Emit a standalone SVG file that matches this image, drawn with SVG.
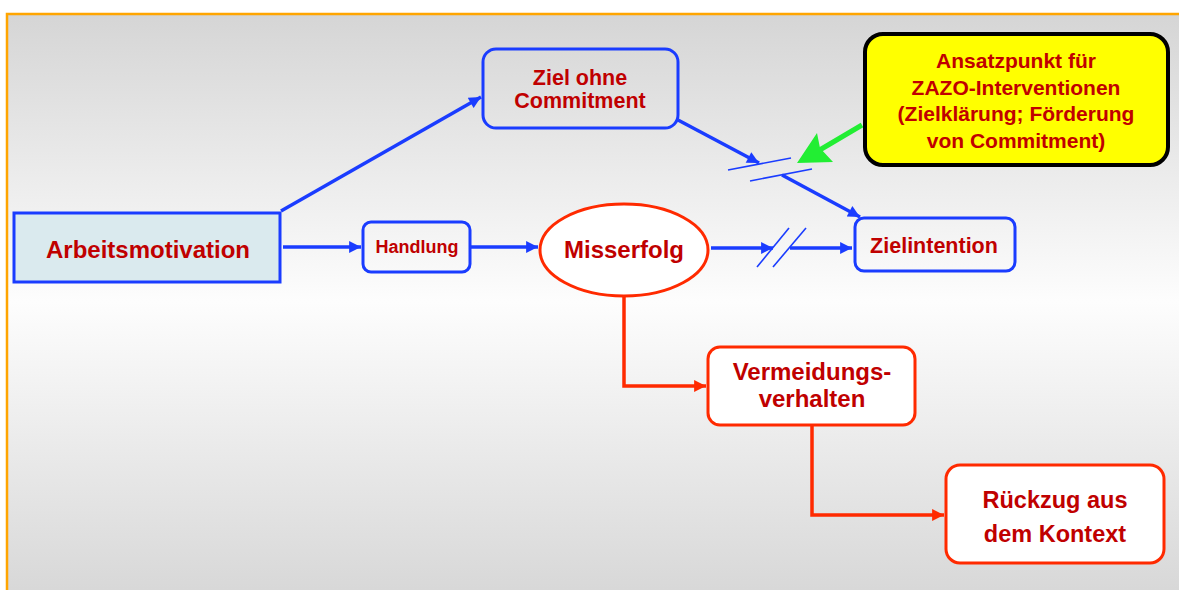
<svg xmlns="http://www.w3.org/2000/svg" width="1179" height="590" viewBox="0 0 1179 590">
<defs>
  <linearGradient id="bg" x1="0" y1="13" x2="0" y2="590" gradientUnits="userSpaceOnUse">
    <stop offset="0" stop-color="#d5d5d5"/>
    <stop offset="0.5" stop-color="#fdfdfd"/>
    <stop offset="1" stop-color="#d8d8d8"/>
  </linearGradient>
  <marker id="ab" viewBox="0 0 10 10" refX="10" refY="5" markerWidth="4" markerHeight="3.4" orient="auto" markerUnits="strokeWidth">
    <path d="M0,0 L10,5 L0,10 z" fill="#1a3cff"/>
  </marker>
  <marker id="ar" viewBox="0 0 10 10" refX="10" refY="5" markerWidth="4" markerHeight="3.4" orient="auto" markerUnits="strokeWidth">
    <path d="M0,0 L10,5 L0,10 z" fill="#ff2a00"/>
  </marker>
</defs>
<style>
  text { font-family: "Liberation Sans", Arial, sans-serif; font-weight: bold; fill: #c00000; text-anchor: middle; }
  .b { fill: none; stroke: #1a3cff; stroke-width: 3; }
  .r { fill: #ffffff; stroke: #ff2a00; stroke-width: 3; }
  .cb { fill: none; stroke: #1a3cff; stroke-width: 3.5; }
  .cr { fill: none; stroke: #ff2a00; stroke-width: 3.5; }
  .sl { fill: none; stroke: #1a3cff; stroke-width: 1.6; }
</style>
<rect x="0" y="0" width="1179" height="590" fill="#ffffff"/>
<rect x="7" y="14" width="1180" height="590" fill="url(#bg)" stroke="#ffa500" stroke-width="2.5"/>

<g id="connectors">
  <line class="cb" x1="281" y1="211" x2="481" y2="97" marker-end="url(#ab)"/>
  <line class="cb" x1="283" y1="247" x2="361" y2="247" marker-end="url(#ab)"/>
  <line class="cb" x1="471" y1="247" x2="538" y2="247" marker-end="url(#ab)"/>
  <line class="cb" x1="711" y1="248" x2="773" y2="248" marker-end="url(#ab)"/>
  <line class="cb" x1="790" y1="248" x2="852" y2="248" marker-end="url(#ab)"/>
  <line class="sl" x1="757" y1="267" x2="789" y2="228"/>
  <line class="sl" x1="773" y1="267" x2="806" y2="228"/>
  <line class="cb" x1="678" y1="120" x2="759" y2="163" marker-end="url(#ab)"/>
  <line class="sl" x1="728" y1="170" x2="791" y2="158"/>
  <line class="sl" x1="750" y1="181" x2="812" y2="169"/>
  <line class="cb" x1="782" y1="175" x2="860" y2="217" marker-end="url(#ab)"/>
  <g id="green-arrow">
    <line x1="862" y1="125" x2="818" y2="151" stroke="#22ee33" stroke-width="5"/>
    <path d="M797,163 L817,133 L820,148 L833,162 z" fill="#22ee33"/>
  </g>
  <polyline class="cr" points="624,297 624,386 706,386" marker-end="url(#ar)"/>
  <polyline class="cr" points="812,426 812,515 944,515" marker-end="url(#ar)"/>
</g>

<g id="arbeitsmotivation">
  <rect x="14" y="213" width="266" height="69" fill="#daeaee" stroke="#1a3cff" stroke-width="3"/>
  <text x="148" y="258" font-size="24">Arbeitsmotivation</text>
</g>
<g id="ziel-ohne-commitment">
  <rect class="b" x="483" y="49" width="195" height="79" rx="13"/>
  <text x="580" y="85" font-size="21.5">Ziel ohne</text>
  <text x="580" y="108" font-size="21.5">Commitment</text>
</g>
<g id="handlung">
  <rect class="b" x="363" y="222" width="107" height="50" rx="8"/>
  <text x="417" y="253" font-size="18">Handlung</text>
</g>
<g id="misserfolg">
  <ellipse class="r" cx="624" cy="250" rx="84" ry="46"/>
  <text x="624" y="258" font-size="24">Misserfolg</text>
</g>
<g id="zielintention">
  <rect class="b" x="855" y="218" width="160" height="53" rx="9"/>
  <text x="934" y="253" font-size="21.5">Zielintention</text>
</g>
<g id="ansatzpunkt">
  <rect x="865" y="34" width="303" height="131" rx="18" fill="#ffff00" stroke="#000000" stroke-width="4"/>
  <text x="1016" y="68" font-size="21">Ansatzpunkt für</text>
  <text x="1016" y="94.5" font-size="21">ZAZO-Interventionen</text>
  <text x="1016" y="121" font-size="21">(Zielklärung; Förderung</text>
  <text x="1016" y="147.5" font-size="21">von Commitment)</text>
</g>
<g id="vermeidungsverhalten">
  <rect class="r" x="708" y="347" width="207" height="78" rx="12"/>
  <text x="812" y="380" font-size="24">Vermeidungs-</text>
  <text x="812" y="407" font-size="24">verhalten</text>
</g>
<g id="rueckzug">
  <rect class="r" x="946" y="465" width="218" height="98" rx="14"/>
  <text x="1055" y="508" font-size="23.5">Rückzug aus</text>
  <text x="1055" y="542" font-size="23.5">dem Kontext</text>
</g>
</svg>
